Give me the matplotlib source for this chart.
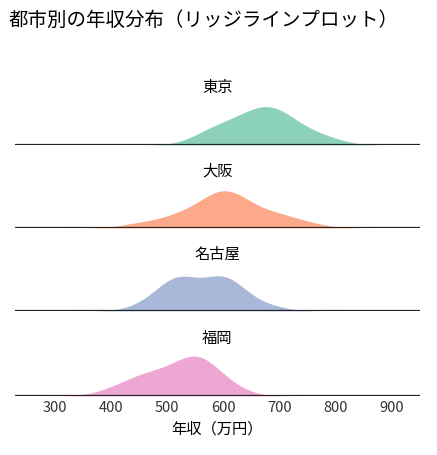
import numpy as np
import matplotlib.pyplot as plt

plt.rcParams['font.family'] = ['Noto Sans CJK JP', 'DejaVu Sans']

cities = ["東京", "大阪", "名古屋", "福岡"]
colors = ["#66c2a5", "#fc8d62", "#8da0cb", "#e78ac3"]
# 年収サンプル（万円）
samples = {
    "東京": [560, 590, 610, 630, 650, 660, 670, 680, 690, 700, 710, 720, 740, 760, 790, 620, 675, 700, 650, 580],
    "大阪": [450, 500, 540, 560, 580, 590, 600, 600, 610, 620, 630, 650, 680, 710, 750, 570, 605, 640, 520, 690],
    "名古屋": [460, 490, 505, 515, 520, 525, 535, 550, 580, 595, 600, 605, 610, 620, 640, 680, 510, 600, 530, 590],
    "福岡": [400, 430, 460, 470, 480, 500, 510, 530, 540, 550, 550, 560, 570, 580, 600, 620, 450, 520, 555, 565],
}
xmin, xmax = 230, 950
ticks = [300, 400, 500, 600, 700, 800, 900]

xs = np.linspace(xmin, xmax, 600)
bw = 34

def kde(data):
    d = np.asarray(data, float)
    z = (xs[:, None] - d[None, :]) / bw
    return np.exp(-0.5 * z ** 2).sum(axis=1) / (len(d) * bw * np.sqrt(2 * np.pi))

fig = plt.figure(figsize=(4.37, 4.55), dpi=100)
baselines = [145, 228, 311, 396]
dens = [kde(samples[c]) for c in cities]
ymax = max(d.max() for d in dens)
for i, c in enumerate(cities):
    ax = fig.add_axes([15 / 437, (455 - baselines[i]) / 455, 405 / 437, 80 / 455])
    ax.fill_between(xs, 0, dens[i], color=colors[i], alpha=0.75, lw=0)
    ax.axhline(0, color="#222222", lw=1.6)
    ax.set_xlim(xmin, xmax)
    ax.set_ylim(0, ymax * 2.0)
    ax.text(0.5, 0.66, c, transform=ax.transAxes, ha="center", fontsize=11)
    ax.set_yticks([])
    for s in ax.spines.values():
        s.set_visible(False)
    if i < 3:
        ax.set_xticks([])
    else:
        ax.set_xticks(ticks)
        ax.tick_params(length=0, labelsize=10.5, colors="#333333")
        ax.set_xlabel("年収（万円）", fontsize=11)

fig.text(0.02, 0.955, "都市別の年収分布（リッジラインプロット）", fontsize=14, va="center")
fig.savefig("out.png", dpi=100)
